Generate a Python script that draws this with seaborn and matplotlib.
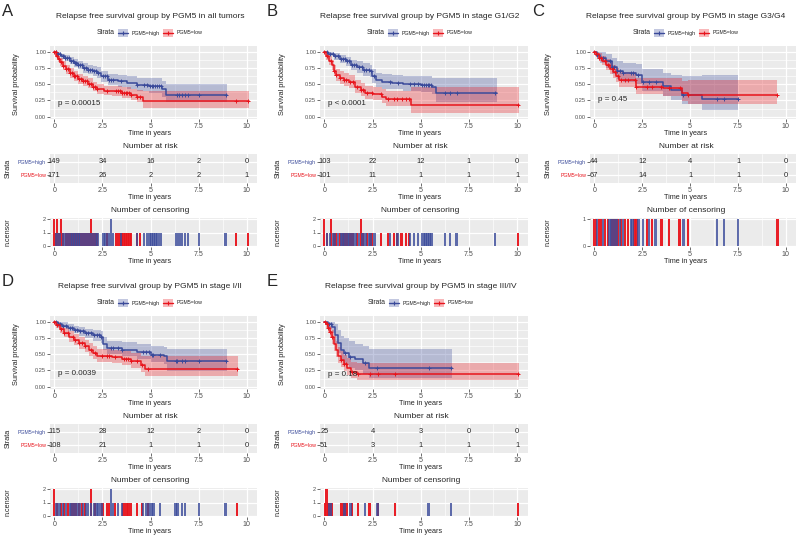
import numpy as np
import pandas as pd
import matplotlib
matplotlib.use("Agg")
import matplotlib.pyplot as plt
from matplotlib.patches import Rectangle
from matplotlib.lines import Line2D
import seaborn as sns

# ---------------- data ----------------
titles = ["Relapse free survival group by PGM5 in all tumors",
          "Relapse free survival group by PGM5 in stage G1/G2",
          "Relapse free survival group by PGM5 in stage G3/G4",
          "Relapse free survival group by PGM5 in stage I/II",
          "Relapse free survival group by PGM5 in stage III/IV"]
letters = ["A", "B", "C", "D", "E"]
pvals = ["p = 0.00015", "p < 0.0001", "p = 0.45", "p = 0.0039", "p = 0.18"]
risk_times = [0, 2.5, 5, 7.5, 10]

# A - all tumors
a_high_t = [0, 0.15, 0.35, 0.55, 0.8, 1.0, 1.25, 1.5, 1.75, 2.0, 2.2, 2.45, 2.8, 3.3, 3.8, 4.3, 4.9, 5.6, 5.8, 8.95]
a_high_s = [1.0, 0.97, 0.93, 0.90, 0.86, 0.83, 0.79, 0.75, 0.72, 0.70, 0.67, 0.62, 0.57, 0.55, 0.52, 0.49, 0.47, 0.42, 0.34, 0.34]
a_high_lo = [1.0, 0.94, 0.89, 0.85, 0.81, 0.77, 0.73, 0.68, 0.65, 0.62, 0.59, 0.54, 0.49, 0.46, 0.43, 0.40, 0.37, 0.31, 0.22, 0.22]
a_high_hi = [1.0, 1.0, 0.97, 0.95, 0.92, 0.89, 0.86, 0.82, 0.80, 0.78, 0.76, 0.71, 0.66, 0.64, 0.62, 0.60, 0.59, 0.55, 0.51, 0.51]
a_low_t = [0, 0.1, 0.2, 0.3, 0.45, 0.6, 0.8, 1.0, 1.25, 1.5, 1.75, 2.0, 2.2, 2.6, 3.0, 3.5, 4.0, 4.3, 4.6, 10.1]
a_low_s = [1.0, 0.94, 0.89, 0.84, 0.78, 0.73, 0.67, 0.62, 0.58, 0.55, 0.51, 0.46, 0.42, 0.40, 0.39, 0.37, 0.34, 0.31, 0.24, 0.24]
a_low_lo = [1.0, 0.90, 0.84, 0.78, 0.72, 0.66, 0.60, 0.55, 0.51, 0.48, 0.44, 0.39, 0.35, 0.33, 0.32, 0.29, 0.26, 0.23, 0.14, 0.14]
a_low_hi = [1.0, 0.98, 0.94, 0.90, 0.85, 0.80, 0.75, 0.70, 0.66, 0.63, 0.59, 0.54, 0.50, 0.48, 0.47, 0.46, 0.43, 0.41, 0.40, 0.40]
a_cens_high = [0.1, 0.2, 0.3, 0.45, 0.55, 0.65, 0.75, 0.85, 0.95, 1.05, 1.15, 1.25, 1.35, 1.45, 1.55, 1.65, 1.75,
               1.85, 1.95, 2.05, 2.15, 2.25, 2.55, 2.65, 2.75, 2.85, 2.95, 2.95, 3.05, 3.45, 4.3, 4.65, 4.8, 4.95,
               5.05, 5.15, 5.25, 5.35, 5.45, 5.55, 6.35, 6.5, 6.65, 6.8, 6.95, 7.5, 8.9]
a_cens_low = [0.0, 0.0, 0.08, 0.15, 0.15, 0.25, 0.35, 0.35, 0.45, 0.6, 0.7, 0.8, 0.9, 1.0, 1.1, 1.2, 1.3, 1.4, 1.5,
              1.6, 1.7, 1.8, 1.9, 1.9, 2.0, 2.1, 2.2, 2.75, 3.2, 3.3, 3.4, 3.5, 3.6, 3.7, 3.8, 3.9, 4.0, 4.3, 4.45,
              9.45, 10.05]
a_risk_high = [149, 34, 16, 2, 0]
a_risk_low = [171, 26, 2, 2, 1]

# B - G1/G2
b_high_t = [0, 0.2, 0.5, 0.8, 1.1, 1.4, 1.7, 2.0, 2.35, 2.45, 2.7, 3.0, 3.5, 4.1, 5.0, 5.6, 5.8, 8.95]
b_high_s = [1.0, 0.97, 0.93, 0.89, 0.85, 0.80, 0.76, 0.72, 0.70, 0.62, 0.56, 0.53, 0.52, 0.50, 0.49, 0.46, 0.36, 0.36]
b_high_lo = [1.0, 0.93, 0.88, 0.83, 0.78, 0.72, 0.68, 0.63, 0.61, 0.52, 0.46, 0.43, 0.42, 0.39, 0.38, 0.35, 0.22, 0.22]
b_high_hi = [1.0, 1.0, 0.98, 0.95, 0.92, 0.88, 0.85, 0.82, 0.80, 0.73, 0.68, 0.65, 0.64, 0.63, 0.62, 0.60, 0.59, 0.59]
b_low_t = [0, 0.1, 0.25, 0.4, 0.5, 0.6, 0.8, 1.0, 1.3, 1.6, 1.9, 2.1, 2.5, 3.0, 3.2, 4.5, 10.1]
b_low_s = [1.0, 0.93, 0.86, 0.79, 0.70, 0.64, 0.60, 0.57, 0.53, 0.46, 0.41, 0.36, 0.35, 0.31, 0.27, 0.18, 0.18]
b_low_lo = [1.0, 0.88, 0.80, 0.72, 0.62, 0.55, 0.51, 0.48, 0.44, 0.37, 0.32, 0.27, 0.26, 0.21, 0.17, 0.06, 0.06]
b_low_hi = [1.0, 0.98, 0.93, 0.87, 0.79, 0.73, 0.70, 0.67, 0.64, 0.57, 0.52, 0.47, 0.46, 0.43, 0.40, 0.45, 0.45]
b_cens_high = [0.15, 0.3, 0.45, 0.55, 0.7, 0.85, 0.95, 1.05, 1.2, 1.3, 1.45, 1.55, 1.65, 1.8, 1.95, 2.05, 2.15,
               2.3, 2.4, 2.6, 3.4, 3.8, 4.45, 4.65, 4.85, 5.05, 5.15, 5.25, 5.35, 5.45, 5.55, 6.25, 6.5, 6.85, 8.85]
b_cens_low = [0.0, 0.0, 0.15, 0.35, 0.35, 0.5, 0.6, 0.8, 1.0, 1.15, 1.35, 1.5, 1.7, 1.9, 1.9, 2.0, 2.2, 2.45,
              2.95, 3.3, 3.6, 3.75, 4.0, 4.25, 4.4, 10.05]
b_risk_high = [103, 22, 12, 1, 0]
b_risk_low = [101, 11, 1, 1, 1]

# C - G3/G4
c_high_t = [0, 0.15, 0.3, 0.6, 0.9, 1.2, 1.5, 2.2, 2.5, 3.6, 4.0, 4.6, 5.6, 7.5]
c_high_s = [1.0, 0.95, 0.91, 0.85, 0.77, 0.71, 0.67, 0.64, 0.54, 0.47, 0.41, 0.34, 0.27, 0.27]
c_high_lo = [1.0, 0.89, 0.83, 0.75, 0.65, 0.58, 0.54, 0.50, 0.40, 0.32, 0.26, 0.19, 0.11, 0.11]
c_high_hi = [1.0, 1.0, 1.0, 0.97, 0.91, 0.86, 0.83, 0.81, 0.73, 0.68, 0.64, 0.62, 0.64, 0.64]
c_low_t = [0, 0.1, 0.25, 0.4, 0.6, 0.8, 1.0, 1.15, 1.3, 2.2, 3.6, 4.6, 4.9, 9.55]
c_low_s = [1.0, 0.96, 0.91, 0.86, 0.80, 0.74, 0.69, 0.63, 0.56, 0.46, 0.44, 0.37, 0.34, 0.34]
c_low_lo = [1.0, 0.92, 0.85, 0.79, 0.72, 0.65, 0.59, 0.53, 0.45, 0.35, 0.32, 0.24, 0.20, 0.20]
c_low_hi = [1.0, 1.0, 0.98, 0.94, 0.89, 0.84, 0.80, 0.75, 0.69, 0.60, 0.59, 0.55, 0.57, 0.57]
c_cens_high = [0.15, 0.45, 0.8, 0.9, 1.05, 1.2, 1.35, 1.5, 1.9, 2.0, 2.3, 2.55, 2.85, 3.2, 4.65, 6.4, 6.75, 7.5]
c_cens_low = [0.0, 0.1, 0.25, 0.35, 0.55, 0.7, 0.95, 1.1, 1.25, 1.4, 1.6, 1.75, 2.1, 2.2, 2.75, 3.0, 3.5, 3.9,
              4.45, 4.9, 9.55]
c_risk_high = [44, 12, 4, 1, 0]
c_risk_low = [67, 14, 1, 1, 0]

# D - stage I/II
d_high_t = [0, 0.2, 0.4, 0.7, 1.0, 1.3, 1.6, 2.0, 2.45, 2.55, 2.75, 3.5, 4.3, 5.0, 5.7, 5.85, 8.95]
d_high_s = [1.0, 0.97, 0.94, 0.91, 0.88, 0.85, 0.82, 0.79, 0.76, 0.66, 0.60, 0.57, 0.53, 0.49, 0.47, 0.39, 0.39]
d_high_lo = [1.0, 0.94, 0.90, 0.85, 0.82, 0.78, 0.75, 0.71, 0.67, 0.56, 0.50, 0.47, 0.42, 0.38, 0.35, 0.24, 0.24]
d_high_hi = [1.0, 1.0, 0.99, 0.96, 0.94, 0.92, 0.89, 0.87, 0.85, 0.77, 0.71, 0.69, 0.66, 0.63, 0.61, 0.58, 0.58]
d_low_t = [0, 0.1, 0.3, 0.5, 0.75, 1.0, 1.3, 1.6, 1.8, 2.0, 2.2, 3.0, 3.5, 4.0, 4.5, 4.7, 9.55]
d_low_s = [1.0, 0.95, 0.89, 0.83, 0.77, 0.72, 0.67, 0.62, 0.57, 0.52, 0.47, 0.46, 0.43, 0.39, 0.34, 0.28, 0.28]
d_low_lo = [1.0, 0.91, 0.83, 0.76, 0.69, 0.64, 0.58, 0.53, 0.48, 0.43, 0.38, 0.36, 0.33, 0.29, 0.23, 0.16, 0.16]
d_low_hi = [1.0, 0.99, 0.95, 0.90, 0.85, 0.81, 0.76, 0.72, 0.67, 0.62, 0.58, 0.57, 0.55, 0.52, 0.48, 0.47, 0.47]
d_cens_high = [0.1, 0.2, 0.3, 0.45, 0.6, 0.8, 0.9, 1.05, 1.2, 1.35, 1.5, 1.65, 1.75, 1.9, 2.05, 2.2, 2.3, 2.45,
               2.95, 2.95, 3.05, 3.3, 3.5, 4.6, 4.75, 4.9, 5.05, 5.15, 5.5, 6.3, 6.4, 6.65, 6.8, 7.5, 8.9]
d_cens_low = [0.0, 0.0, 0.15, 0.35, 0.5, 0.7, 0.95, 1.1, 1.3, 1.45, 1.6, 1.9, 1.9, 2.1, 2.5, 2.75, 2.85, 3.15,
              3.6, 3.75, 3.85, 4.0, 4.3, 4.55, 4.85, 9.5]
d_risk_high = [115, 28, 12, 2, 0]
d_risk_low = [108, 21, 1, 1, 0]

# E - stage III/IV
e_high_t = [0, 0.2, 0.4, 0.55, 0.7, 0.85, 1.0, 1.3, 1.6, 2.0, 2.3, 6.6]
e_high_s = [1.0, 0.96, 0.92, 0.80, 0.68, 0.56, 0.52, 0.46, 0.42, 0.37, 0.29, 0.29]
e_high_lo = [1.0, 0.89, 0.82, 0.66, 0.52, 0.40, 0.35, 0.29, 0.25, 0.20, 0.13, 0.13]
e_high_hi = [1.0, 1.0, 1.0, 0.97, 0.88, 0.78, 0.75, 0.70, 0.66, 0.62, 0.58, 0.58]
e_low_t = [0, 0.1, 0.2, 0.3, 0.4, 0.5, 0.6, 0.7, 0.85, 1.0, 1.2, 1.4, 1.7, 10.1]
e_low_s = [1.0, 0.96, 0.90, 0.84, 0.76, 0.66, 0.56, 0.47, 0.41, 0.35, 0.29, 0.23, 0.20, 0.20]
e_low_lo = [1.0, 0.91, 0.83, 0.75, 0.66, 0.55, 0.45, 0.36, 0.30, 0.24, 0.18, 0.13, 0.10, 0.10]
e_low_hi = [1.0, 1.0, 0.98, 0.94, 0.87, 0.79, 0.70, 0.61, 0.55, 0.49, 0.44, 0.38, 0.37, 0.37]
e_cens_high = [0.25, 0.35, 1.05, 1.35, 2.1, 2.75, 5.4, 6.55]
e_cens_low = [0.05, 0.12, 0.12, 0.2, 0.3, 0.4, 0.85, 1.0, 1.15, 1.45, 1.75, 2.35, 2.8, 3.65, 10.05]
e_risk_high = [25, 4, 3, 0, 0]
e_risk_low = [51, 3, 1, 1, 1]

curves = [
    (a_high_t, a_high_s, a_high_lo, a_high_hi, a_low_t, a_low_s, a_low_lo, a_low_hi),
    (b_high_t, b_high_s, b_high_lo, b_high_hi, b_low_t, b_low_s, b_low_lo, b_low_hi),
    (c_high_t, c_high_s, c_high_lo, c_high_hi, c_low_t, c_low_s, c_low_lo, c_low_hi),
    (d_high_t, d_high_s, d_high_lo, d_high_hi, d_low_t, d_low_s, d_low_lo, d_low_hi),
    (e_high_t, e_high_s, e_high_lo, e_high_hi, e_low_t, e_low_s, e_low_lo, e_low_hi),
]
censors = [(a_cens_high, a_cens_low), (b_cens_high, b_cens_low), (c_cens_high, c_cens_low),
           (d_cens_high, d_cens_low), (e_cens_high, e_cens_low)]
risks = [(a_risk_high, a_risk_low), (b_risk_high, b_risk_low), (c_risk_high, c_risk_low),
         (d_risk_high, d_risk_low), (e_risk_high, e_risk_low)]

# ---------------- layout (pixels) ----------------
W, H = 798, 537
BLUE = "#3A4A9A"
RED = "#E8141C"
GREYTXT = "#4D4D4D"
# letter x, row offset, x of t=0, px per year, centre of titles, x of y label, p-value height
layout = [
    (2, 0, 54.3, 19.25, 150, 17, 0.21),
    (267, 0, 324.3, 19.3, 420, 283, 0.21),
    (532, 0, 594.3, 19.17, 686, 549, 0.27),
    (2, 270, 54.3, 19.25, 150, 17, 0.20),
    (267, 270, 324.3, 19.3, 421, 283, 0.19),
]

sns.set_style("darkgrid", {"axes.facecolor": "#EBEBEB", "grid.color": "white"})
plt.rcParams['font.family'] = ['Liberation Sans', 'DejaVu Sans']

fig = plt.figure(figsize=(W / 100, H / 100), dpi=100)
fig.patch.set_facecolor("white")


def add_ax(left, top, right, bottom):
    return fig.add_axes([left / W, 1 - bottom / H, (right - left) / W, (bottom - top) / H])


def ftext(x, y, s, **kw):
    fig.text(x / W, 1 - y / H, s, **kw)


def style_ax(ax, xl, yl):
    ax.set_xlim(*xl)
    ax.set_ylim(*yl)
    ax.set_xticks(risk_times)
    ax.set_xticklabels(["0", "2.5", "5", "7.5", "10"])
    ax.set_xticks([1.25, 3.75, 6.25, 8.75], minor=True)
    ax.grid(which="major", color="white", linewidth=0.9)
    ax.grid(which="minor", color="white", linewidth=0.45)
    ax.tick_params(axis="both", which="major", bottom=True, left=True, length=2, width=0.5,
                   color="#333333", pad=0.8, labelcolor=GREYTXT)
    ax.tick_params(axis="x", labelsize=5.1)
    ax.tick_params(axis="both", which="minor", bottom=False, left=False)
    for sp in ax.spines.values():
        sp.set_visible(False)


for i in range(5):
    lx, ro, x0, k, cx, ylx, py = layout[i]
    ht, hs, hlo, hhi, lt, ls, llo, lhi = curves[i]
    left = x0 - 0.22 * k
    right = x0 + 10.53 * k

    # panel letter, title, legend
    ftext(lx, 11 + ro, letters[i], fontsize=12, ha="left", va="center")
    ftext(cx, 16.7 + ro, titles[i], fontsize=6, ha="center", va="center")
    ly = 33 + ro
    ftext(cx - 53, ly, "Strata", fontsize=4.9, ha="left", va="center")
    for px, col, lab in [(cx - 32, BLUE, "PGM5=high"), (cx + 13, RED, "PGM5=low")]:
        fig.add_artist(Rectangle((px / W, 1 - (ly + 4) / H), 10 / W, 8 / H, transform=fig.transFigure,
                                 facecolor=col, alpha=0.3, linewidth=0))
        fig.add_artist(Line2D([px / W, (px + 10) / W], [1 - ly / H] * 2, transform=fig.transFigure,
                              color=col, linewidth=1))
        fig.add_artist(Line2D([(px + 5) / W], [1 - ly / H], transform=fig.transFigure, color=col,
                              marker="+", markersize=3.5, markeredgewidth=0.8))
        ftext(px + 14, ly, lab, fontsize=3.75, ha="left", va="center", color="#222222")

    # survival curves
    ax = add_ax(left, 45.85 + ro, right, 118.65 + ro)
    style_ax(ax, (-0.22, 10.53), (-0.03, 1.09))
    ax.set_yticks([0, 0.25, 0.5, 0.75, 1.0])
    ax.set_yticklabels(["0.00", "0.25", "0.50", "0.75", "1.00"])
    ax.set_yticks([0.125, 0.375, 0.625, 0.875], minor=True)
    ax.tick_params(axis="y", labelsize=4.1)
    for t, s, lo, hi, cens, col in [(ht, hs, hlo, hhi, censors[i][0], BLUE),
                                    (lt, ls, llo, lhi, censors[i][1], RED)]:
        ax.fill_between(t, lo, hi, step="post", color=col, alpha=0.3, linewidth=0)
        df = pd.DataFrame({"time": t, "surv": s})
        sns.lineplot(data=df, x="time", y="surv", ax=ax, color=col, linewidth=1.1,
                     drawstyle="steps-post", estimator=None, sort=False, legend=False)
        ct = np.unique(cens)
        idx = np.searchsorted(t, ct, side="right") - 1
        ax.plot(ct, np.asarray(s)[idx], linestyle="none", marker="+", color=col,
                markersize=3.5, markeredgewidth=0.7)
    ax.text(0.21, py, pvals[i], fontsize=5.8, ha="left", va="center")
    ax.set_xlabel("")
    ax.set_ylabel("")
    ftext(ylx, 84 + ro, "Survival probability", fontsize=5.3, rotation=90, ha="center", va="center")
    ftext(cx, 133.3 + ro, "Time in years", fontsize=5.2, ha="center", va="center")

    # risk table
    ftext(cx, 146.7 + ro, "Number at risk", fontsize=6, ha="center", va="center")
    axr = add_ax(left, 153.7 + ro, right, 183 + ro)
    style_ax(axr, (-0.22, 10.53), (0.4, 2.6))
    axr.set_yticks([1, 2])
    axr.set_yticklabels(["PGM5=low", "PGM5=high"])
    axr.tick_params(axis="y", labelsize=3.8)
    axr.get_yticklabels()[0].set_color(RED)
    axr.get_yticklabels()[1].set_color(BLUE)
    for rt, nh, nl in zip(risk_times, risks[i][0], risks[i][1]):
        axr.text(rt, 2, str(nh), fontsize=5.4, ha="center", va="center")
        axr.text(rt, 1, str(nl), fontsize=5.4, ha="center", va="center")
    ftext(x0 - 46, 168 + ro, "Strata", fontsize=5.2, rotation=90, ha="center", va="center")
    ftext(cx, 197.5 + ro, "Time in years", fontsize=5.2, ha="center", va="center")

    # censoring
    ftext(cx, 211 + ro, "Number of censoring", fontsize=6, ha="center", va="center")
    axc = add_ax(left, 218 + ro, right, 247 + ro)
    cmax = 0
    for cens, col, al in [(censors[i][1], RED, 0.95), (censors[i][0], BLUE, 0.8)]:
        vc = pd.Series(cens).value_counts().sort_index()
        cmax = max(cmax, vc.max())
        axc.bar(vc.index, vc.values, width=0.12, color=col, alpha=al, linewidth=0, antialiased=False)
    style_ax(axc, (-0.22, 10.53), (-0.05 * cmax, 1.05 * cmax))
    axc.set_yticks(list(range(cmax + 1)))
    axc.tick_params(axis="y", labelsize=4.1)
    axc.set_axisbelow(True)
    ftext(x0 - 46, 232 + ro, "n.censor", fontsize=5.2, rotation=90, ha="center", va="center")
    ftext(cx, 261.5 + ro, "Time in years", fontsize=5.2, ha="center", va="center")

fig.savefig("out.png", dpi=100)
